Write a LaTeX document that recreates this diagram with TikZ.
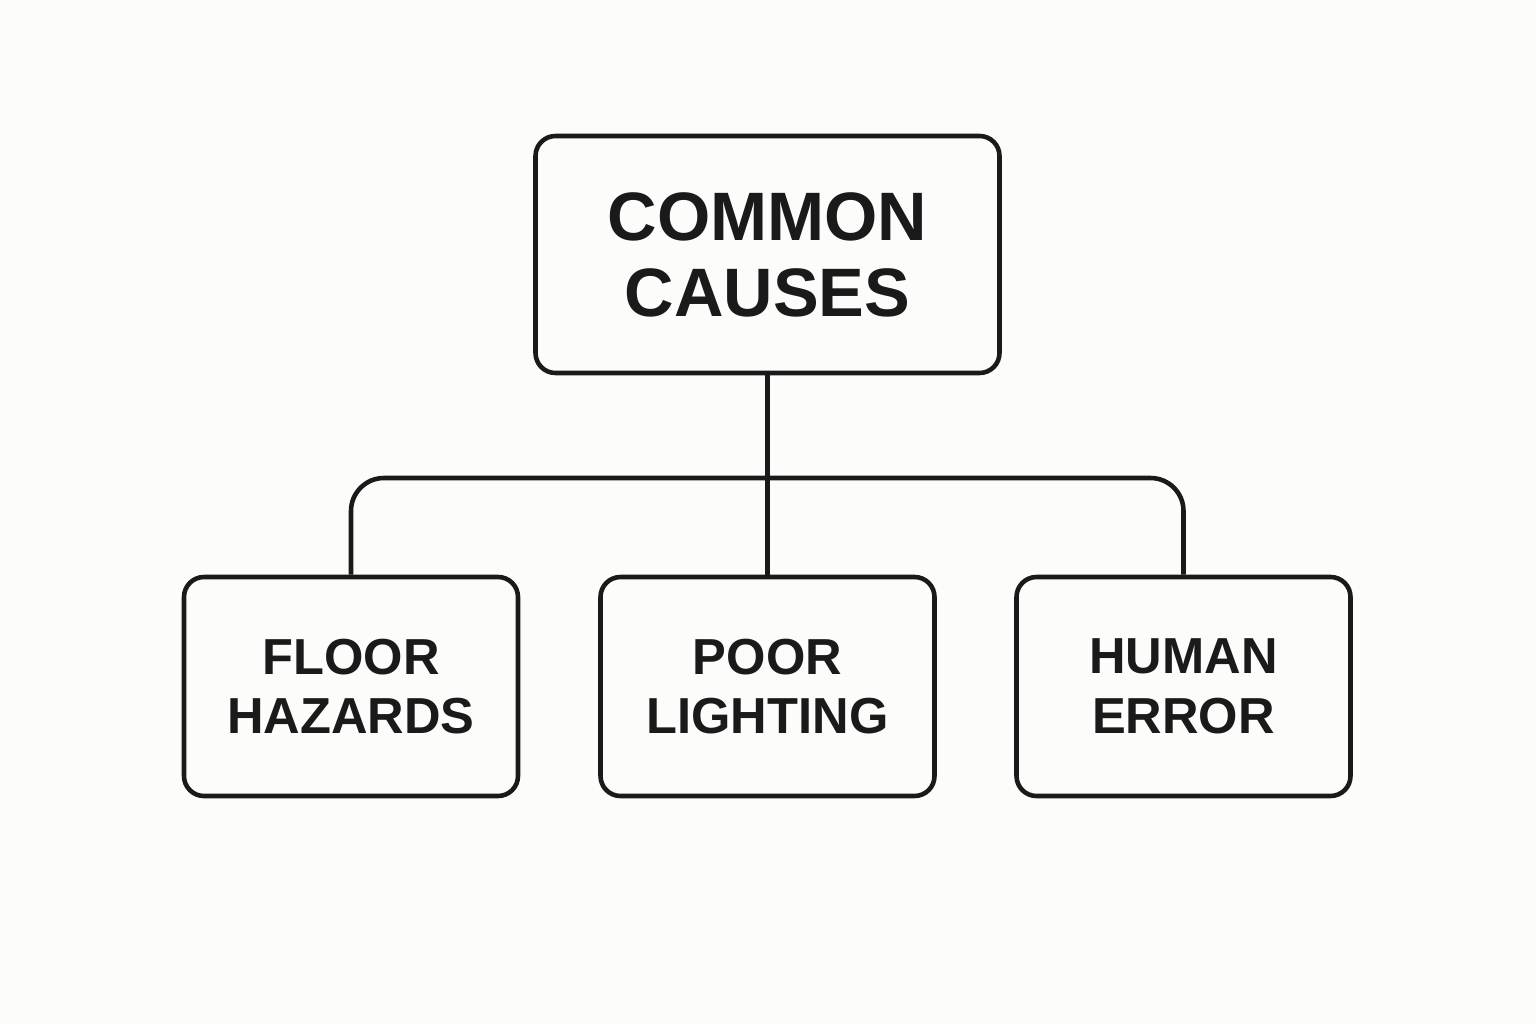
\documentclass[tikz,border=0pt]{standalone}
\usepackage{fontspec}
\setmainfont{Liberation Sans}
\usepackage{tikz}
\usetikzlibrary{positioning}

\definecolor{paper}{HTML}{FCFCFA}
\definecolor{ink}{HTML}{1A1A1A}

\begin{document}
\begin{tikzpicture}
    \tikzstyle{every node} = [align=center, text=ink]
    \tikzstyle{causebox} = [draw=ink, line width=1.3pt, rounded corners=0.2cm,
      minimum width=3.34cm, minimum height=2.19cm,
      font=\bfseries\fontsize{14.4}{17}\selectfont]
    \tikzstyle{rootbox} = [causebox, minimum width=4.64cm, minimum height=2.37cm,
      font=\bfseries\fontsize{19.5}{21.6}\selectfont]
    \tikzstyle{link} = [draw=ink, line width=1.3pt]

    \fill [paper] (0, 0) rectangle (15.36, 10.24);
    \useasboundingbox (0, 0) rectangle (15.36, 10.24);

    \node [rootbox] (causes) at (7.675, 7.695) {COMMON\\CAUSES};

    \foreach \x/\name/\txt in {3.51/floor/{FLOOR\\HAZARDS}, 7.675/light/{POOR\\LIGHTING}, 11.835/human/{HUMAN\\ERROR}}
      \node [causebox] (\name) at (\x, 3.375) {\txt};

    \coordinate (fork) at (7.675, 5.46);
    \draw [link, rounded corners=0.33cm] (floor.north) |- (fork) -| (human.north);
    \draw [link] (causes.south) -- (light.north);
  \end{tikzpicture}
\end{document}
